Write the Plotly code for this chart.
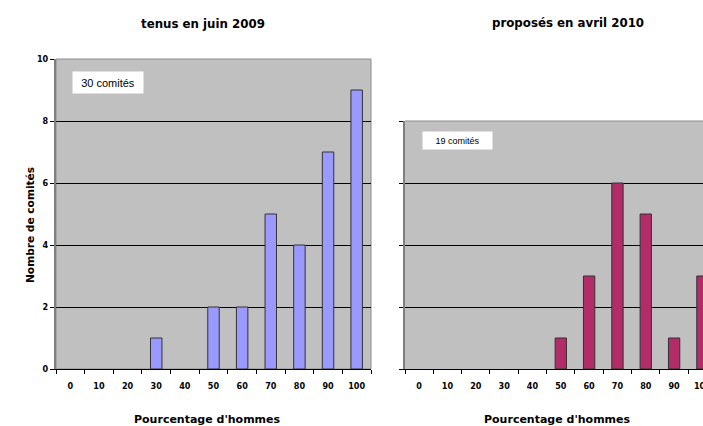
import plotly.graph_objects as go

categories = ["0", "10", "20", "30", "40", "50", "60", "70", "80", "90", "100"]
counts_2009 = [0, 0, 0, 1, 0, 2, 2, 5, 4, 7, 9]
counts_2010 = [0, 0, 0, 0, 0, 1, 3, 6, 5, 1, 3]
y_ticks_left = [0, 2, 4, 6, 8, 10]
y_ticks_right = [0, 2, 4, 6, 8]

W, H = 703, 426


def px(x):
    return x / W


def py(y):
    return 1 - y / H


NARROW = "Liberation Sans Narrow, DejaVu Sans Condensed, Arial Narrow, sans-serif"
BOLD = "DejaVu Sans, Verdana, sans-serif"

fig = go.Figure()
fig.add_trace(go.Bar(x=categories, y=counts_2009, xaxis="x", yaxis="y", width=0.4,
                     marker=dict(color="#9999FF",
                                 line=dict(color="#333333", width=[1 if v else 0 for v in counts_2009])),
                     showlegend=False))
fig.add_trace(go.Bar(x=categories, y=counts_2010, xaxis="x2", yaxis="y2", width=0.4,
                     marker=dict(color="#B22C68",
                                 line=dict(color="#333333", width=[1 if v else 0 for v in counts_2010])),
                     showlegend=False))

tf = dict(family=NARROW, size=9, color="black", weight="bold")
xcommon = dict(type="category", categoryorder="array", categoryarray=categories,
               showgrid=False, zeroline=False, showline=True, linecolor="black", linewidth=1,
               ticks="outside", tickson="boundaries", ticklen=4, tickcolor="black",
               tickfont=tf, ticklabelstandoff=8, automargin=False)
ycommon = dict(showgrid=True, gridcolor="black", gridwidth=1, zeroline=False,
               showline=True, linecolor="#7f7f7f", linewidth=2,
               ticks="outside", ticklen=4, tickcolor="black", automargin=False)

fig.update_layout(
    width=W, height=H, margin=dict(l=0, r=0, t=0, b=0, autoexpand=False),
    paper_bgcolor="white", plot_bgcolor="#C0C0C0", bargap=0.6,
    xaxis=dict(domain=[px(56), px(371)], range=[-0.5, 10.5], anchor="y", **xcommon),
    yaxis=dict(domain=[py(369), py(59)], range=[0, 10], tickvals=y_ticks_left, anchor="x",
               showticklabels=True, tickfont=tf, **ycommon),
    xaxis2=dict(domain=[px(405), 1.0], range=[-0.5, 10.02], anchor="y2", **xcommon),
    yaxis2=dict(domain=[py(369), py(121)], range=[0, 8], tickvals=y_ticks_right, anchor="x2",
                showticklabels=False, **ycommon),
)

# gray plot-area borders (top/right)
fig.add_shape(type="rect", xref="x domain", yref="y domain", x0=0, x1=1, y0=0, y1=1,
              line=dict(color="#8c8c8c", width=1), layer="below")
fig.add_shape(type="line", xref="x2 domain", yref="y2 domain", x0=0, x1=1, y0=1, y1=1,
              line=dict(color="#8c8c8c", width=1), layer="below")

c = dict(xref="paper", yref="paper", xanchor="center", yanchor="middle", showarrow=False)
ann = []
ann.append(dict(text="<b>tenus en juin 2009</b>", x=px(203), y=py(24),
                font=dict(family=BOLD, size=11.8, color="black"), **c))
ann.append(dict(text="<b>proposés en avril 2010</b>", x=px(568), y=py(23),
                font=dict(family=BOLD, size=11.8, color="black"), **c))
ann.append(dict(text="<b>Pourcentage d'hommes</b>", x=px(207), y=py(419),
                font=dict(family=BOLD, size=11, color="black"), **c))
ann.append(dict(text="<b>Pourcentage d'hommes</b>", x=px(557), y=py(419),
                font=dict(family=BOLD, size=11, color="black"), **c))
ann.append(dict(text="<b>Nombre de comités</b>", x=px(30), y=py(225), textangle=-90,
                font=dict(family=BOLD, size=10.6, color="black"), **c))
ann.append(dict(text="30 comités", x=px(72), y=py(71), xref="paper", yref="paper",
                xanchor="left", yanchor="top", showarrow=False, bgcolor="white",
                width=64, height=15, borderpad=3,
                font=dict(family="Liberation Sans, Arial, sans-serif", size=11, color="black")))
ann.append(dict(text="19 comités", x=px(422), y=py(131), xref="paper", yref="paper",
                xanchor="left", yanchor="top", showarrow=False, bgcolor="white",
                width=63, height=11, borderpad=3,
                font=dict(family="Liberation Sans, Arial, sans-serif", size=9, color="black")))
fig.update_layout(annotations=ann)

fig.write_html("out.html")
